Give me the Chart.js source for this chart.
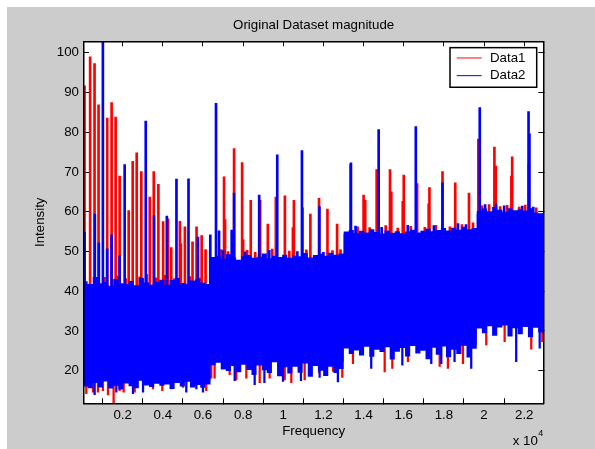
<!DOCTYPE html>
<html>
<head>
<meta charset="utf-8">
<script src="https://cdn.jsdelivr.net/npm/chart.js@4"></script>
<style>
  body { margin: 0; background: #fff; }
  #wrap { position: absolute; left: 7px; top: 7px; width: 588px; height: 442px; background: #cccccc; }
</style>
</head>
<body>
<div id="wrap"><canvas id="mainChart" width="588" height="442"></canvas></div>
<script>
// edges of the noise band, one value per 255-wide frequency bin
const binWidth = 255;
const blueTop = [
  42.5, 41.8, 43.6, 42.0, 42.3, 41.4, 43.1, 42.0, 41.8, 42.6, 41.5, 43.4, 42.2, 41.7, 42.4, 42.9, 41.6, 42.8, 43.3, 42.1, 41.9, 42.7, 43.0, 42.2, 41.8,
  48.6, 48.9, 48.2, 49.3, 48.5, 47.9, 48.8, 49.1, 48.4, 48.7, 49.5, 48.3, 48.9, 48.6, 49.2, 48.4, 49.0, 48.8, 49.6, 48.5, 49.1, 49.4, 48.9, 49.7, 49.2, 49.5,
  55.0, 55.4, 54.6, 55.2, 54.8, 55.6, 54.9, 54.5, 55.3, 54.7, 55.1, 54.6, 55.0, 55.5, 54.8, 55.2, 55.7, 55.1, 55.4, 55.9, 55.3, 56.0, 55.5, 56.2, 55.6, 55.9,
  60.2, 60.8, 60.1, 61.2, 60.5, 60.0, 60.9, 60.4, 60.7, 60.3, 60.9, 59.8, 59.6
];
const blueBottom = [
  16.0, 15.6, 16.9, 15.8, 17.3, 15.5, 16.2, 15.3, 16.8, 16.1, 15.6, 17.5, 16.3, 15.9, 16.7, 16.2, 16.5, 15.4, 16.9, 16.0, 17.2, 15.8, 16.4, 15.7, 16.5,
  21.4, 22.0, 20.3, 19.9, 21.2, 19.6, 21.5, 20.2, 18.9, 21.3, 20.1, 19.4, 22.1, 18.6, 20.9, 19.3, 21.0, 19.5, 21.8, 18.5, 21.2, 20.0, 18.7, 21.0, 19.4, 20.4,
  25.6, 24.2, 25.1, 23.8, 26.0, 23.5, 25.3, 24.7, 25.9, 22.8, 24.8, 25.7, 23.6, 26.2, 24.3, 25.0, 22.9, 25.8, 24.0, 26.1, 23.4, 25.3, 24.2, 26.3, 23.3, 25.5,
  30.6, 29.4, 31.2, 28.8, 30.9, 31.4, 28.6, 30.7, 29.2, 31.0, 28.4, 30.8, 29.6
];
// part of each plateau that the noise always covers
const coreFreq = [0, 6375, 13005, 19635, 22950];
const coreLow = [17.6, 22.2, 26.4, 31.5, 31.5];
const coreHigh = [41.3, 47.8, 54.4, 59.5, 59.5];

// Data1 peaks above the band (large spikes and small edge bumps)
const redSpikeFreq = [100, 380, 600, 800, 1230, 1450, 1650, 1850, 2300, 2500, 2700, 2930, 3350, 3550, 3780, 4015, 4260, 4420,
  4850, 4900, 5100, 5480, 5680, 5935, 6130, 7050, 7100, 7550, 7950, 8000, 8380, 8850, 9230, 9630, 10080, 10480, 10530,
  10960, 11350, 11780, 12200, 12680, 13350, 14000, 14080, 14650, 15315, 15380, 15950, 16000, 16665, 17240, 17280, 17930,
  18565, 19250, 19715, 20515, 20580, 21360, 21400, 22230,
  1100, 1750, 2150, 2850, 3200, 3650, 4100, 4550, 5350, 5850,
  6900, 7250, 8200, 8600, 9450, 10300, 11150, 12450, 12850,
  13700, 14300, 15100, 15700, 16350, 17050, 17600, 18300, 18900, 19450,
  19900, 20250, 20800, 21150, 21750, 22050, 22600];
const redSpikePeak = [91.7, 99.0, 97.3, 86.9, 83.6, 87.5, 83.8, 69.0, 60.3, 72.7, 74.8, 70.1, 63.7, 70.1, 66.9, 57.5, 58.2, 51.0,
  57.6, 52.0, 56.2, 52.4, 56.2, 54.0, 50.5, 68.8, 58.0, 75.9, 72.4, 53.0, 62.9, 62.9, 56.9, 63.7, 64.0, 56.0, 62.9,
  61.0, 59.4, 63.4, 60.7, 56.9, 71.9, 64.2, 62.9, 70.6, 70.6, 65.0, 62.6, 69.2, 67.1, 62.0, 66.1, 70.1,
  67.3, 64.7, 78.3, 76.3, 71.5, 69.0, 73.8, 72.0,
  43.5, 43.8, 43.2, 43.6, 44.2, 43.4, 44.0, 43.1, 43.7, 43.3,
  50.5, 50.0, 50.3, 49.8, 50.6, 50.1, 50.4, 50.2, 50.5,
  56.2, 56.0, 56.5, 55.9, 56.3, 56.1, 56.6, 56.2, 56.8, 57.2,
  61.5, 61.8, 61.3, 61.6, 61.2, 61.7, 61.0];
// Data1 dips below the band
const redDipFreq = [190, 520, 770, 1020, 1270, 1550, 1850, 2050, 2600, 3510, 3975, 4420, 5005, 6165,
  6415, 6580, 7330, 7660, 8160, 8825, 9320, 10070, 10400, 11065, 11780, 12475, 12940,
  13470, 15050, 15430, 16210, 17790, 18200, 18950, 20110, 21025, 22350, 22900];
const redDipLow = [14.2, 14.6, 14.6, 15.0, 13.9, 11.8, 15.0, 14.6, 14.6, 15.4, 15.0, 15.4, 15.8, 15.0,
  18.1, 18.1, 19.0, 17.7, 18.1, 17.0, 18.1, 17.7, 17.0, 17.7, 19.5, 19.8, 18.3,
  21.8, 19.7, 20.6, 22.3, 21.1, 20.6, 21.8, 26.5, 27.3, 25.4, 27.3];

// Data2 peaks above the band
const blueSpikeFreq = [100, 615, 815, 1015, 1230, 1450, 1850, 2100, 3150, 3565, 4200, 4680, 5280, 5750, 6365, 6650, 6800,
  7430, 7550, 8800, 9700, 10930, 11800, 13370, 14750, 16600, 17930, 19785, 22215, 22260,
  7000, 8100, 9300, 10700, 12000, 13600, 14900, 16200, 17500, 18700, 19100, 20050, 20600, 21000, 21900, 22450];
const blueSpikePeak = [54.8, 59.4, 52.2, 104.0, 50.7, 54.2, 49.0, 71.9, 82.8, 59.0, 58.9, 68.2, 68.3, 53.6, 54.2, 87.3, 55.2,
  55.4, 64.7, 64.2, 74.3, 75.4, 61.3, 72.3, 80.7, 81.4, 67.3, 86.2, 85.2, 79.6,
  50.2, 49.9, 50.3, 50.0, 49.8, 56.4, 56.1, 56.6, 56.5, 57.0, 56.8, 61.8, 62.0, 61.5, 61.4, 61.2];
// Data2 dips below the band
const blueDipFreq = [605, 1685, 2515, 3015, 5170, 5670, 6000, 7580, 8575, 9060, 9985, 10880,
  11810, 12720, 14380, 15930, 17370, 17870, 18530, 19360, 21600, 22770];
const blueDipLow = [14.0, 14.6, 14.2, 14.6, 14.6, 15.4, 14.6, 17.5, 16.5, 17.0, 17.3, 17.5,
  18.3, 17.2, 20.6, 21.4, 21.8, 21.8, 22.3, 20.6, 22.3, 25.7];

const bandMid = 32;

const xTickValues = [2000, 4000, 6000, 8000, 10000, 12000, 14000, 16000, 18000, 20000, 22000];
const xTickLabels = ['0.2', '0.4', '0.6', '0.8', '1', '1.2', '1.4', '1.6', '1.8', '2', '2.2'];
const yTickValues = [20, 30, 40, 50, 60, 70, 80, 90, 100];
const xRange = [75, 22950];
const yRange = [11.8, 102.9];

const FONT = "'Liberation Sans', Arial, Helvetica, sans-serif";
Chart.defaults.font.family = FONT;
Chart.defaults.font.size = 13.3;
Chart.defaults.color = '#000';

function bandPoints(values) {
  const pts = values.map((v, i) => ({x: i * binWidth, y: v}));
  pts.push({x: values.length * binWidth, y: values[values.length - 1]});
  return pts;
}
const stepLine = (points, fill, order) => ({
  type: 'line', data: points, stepped: true, pointRadius: 0,
  borderWidth: 1, borderColor: 'rgba(0,0,0,0)', backgroundColor: '#0000ff',
  fill: fill, order: order
});
const floatBars = (points, color, thick, order) => ({
  type: 'bar', data: points, backgroundColor: color, borderWidth: 0,
  barThickness: thick, grouped: false, order: order
});
const peaks = (freq, peak) => freq.map((f, i) => ({x: f, y: [bandMid, peak[i]]}));
const dips = (freq, low) => freq.map((f, i) => ({x: f, y: [low[i], bandMid]}));
const corePoints = values => coreFreq.map((f, i) => ({x: f, y: values[i]}));

const axisCommon = (pos, range, tickValues) => ({
  type: 'linear', position: pos, min: range[0], max: range[1], offset: false,
  afterBuildTicks: s => { s.ticks = tickValues.map(v => ({value: v})); },
  grid: {drawOnChartArea: false, drawTicks: true, tickLength: -5, color: '#000', lineWidth: 1},
  border: {display: true, color: '#000', width: 1.5, z: 1}
});

const plotBackground = {
  id: 'plotBackground',
  beforeDraw(chart) {
    const {ctx, chartArea: ca} = chart;
    ctx.save();
    ctx.fillStyle = '#fff';
    ctx.fillRect(ca.left, ca.top, ca.right - ca.left, ca.bottom - ca.top);
    ctx.restore();
  }
};

const boxLegend = {
  id: 'boxLegend',
  afterDraw(chart) {
    const {ctx, chartArea: ca} = chart;
    const bx = ca.right - 93.3, by = ca.top + 6.4, bw = 86.7, bh = 39.6;
    ctx.save();
    ctx.fillStyle = '#fff';
    ctx.fillRect(bx, by, bw, bh);
    ctx.strokeStyle = '#000';
    ctx.lineWidth = 1.5;
    ctx.strokeRect(bx, by, bw, bh);
    [['Data1', '#ff0000', 10.3], ['Data2', '#0000ff', 28]].forEach(([label, color, dy]) => {
      ctx.strokeStyle = color;
      ctx.lineWidth = 1;
      ctx.beginPath();
      ctx.moveTo(bx + 6.7, by + dy);
      ctx.lineTo(bx + 31.7, by + dy);
      ctx.stroke();
      ctx.fillStyle = '#000';
      ctx.font = '13.3px ' + FONT;
      ctx.textBaseline = 'middle';
      ctx.textAlign = 'left';
      ctx.fillText(label, bx + 40, by + dy);
    });
    // x-axis exponent
    ctx.textBaseline = 'alphabetic';
    ctx.fillText('x 10', ca.right - 30.6, 438);
    ctx.font = '9px ' + FONT;
    ctx.fillText('4', ca.right - 5, 429);
    ctx.restore();
  }
};

new Chart(document.getElementById('mainChart'), {
  type: 'line',
  data: {
    datasets: [
      floatBars(peaks(blueSpikeFreq, blueSpikePeak), '#0000ff', 2, 1),
      floatBars(dips(blueDipFreq, blueDipLow), '#0000ff', 1.6, 1),
      stepLine(bandPoints(blueTop), false, 2),
      stepLine(bandPoints(blueBottom), '-1', 2),
      stepLine(corePoints(coreHigh), false, 2.5),
      stepLine(corePoints(coreLow), '-1', 2.5),
      floatBars(peaks(redSpikeFreq, redSpikePeak), '#ff0000', 2, 3),
      floatBars(dips(redDipFreq, redDipLow), '#ff0000', 1.6, 3)
    ]
  },
  options: {
    responsive: false,
    animation: false,
    events: [],
    layout: {padding: {left: 0, right: 51.7, top: 0, bottom: 0}},
    plugins: {
      legend: {display: false},
      tooltip: {enabled: false},
      title: {
        display: true, text: 'Original Dataset magnitude', fullSize: false,
        font: {size: 13.3, weight: 'normal'}, color: '#000',
        padding: {top: 9.9, bottom: 8.4}
      }
    },
    scales: {
      x: Object.assign(axisCommon('bottom', xRange, xTickValues), {
        ticks: {padding: 9, maxRotation: 0, autoSkip: false, callback: (v, i) => xTickLabels[i]},
        title: {display: true, text: 'Frequency', padding: {top: 0, bottom: 9.2}},
        afterFit: s => { s.height = 45.7; }
      }),
      x2: Object.assign(axisCommon('top', xRange, xTickValues), {
        ticks: {display: false},
        afterFit: s => { s.height = 0; }
      }),
      y: Object.assign(axisCommon('left', yRange, yTickValues), {
        ticks: {padding: 10, autoSkip: false, callback: v => String(v)},
        title: {display: true, text: 'Intensity', padding: {top: 25.7, bottom: 0}},
        afterFit: s => { s.width = 77; }
      }),
      y2: Object.assign(axisCommon('right', yRange, yTickValues), {
        ticks: {display: false},
        afterFit: s => { s.width = 0; }
      })
    }
  },
  plugins: [plotBackground, boxLegend]
});
</script>
</body>
</html>
